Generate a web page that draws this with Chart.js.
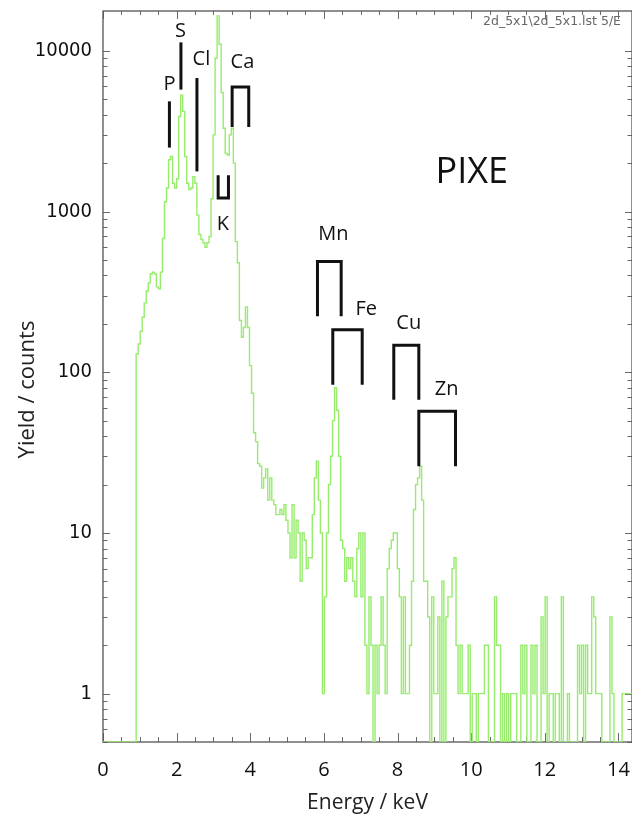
<!DOCTYPE html>
<html>
<head>
<meta charset="utf-8">
<title>PIXE spectrum</title>
<script src="https://cdn.jsdelivr.net/npm/chart.js@4.4.1/dist/chart.umd.min.js"></script>
<style>
  html, body { margin: 0; padding: 0; background: #ffffff; }
  #wrap { width: 632px; height: 814px; }
</style>
</head>
<body>
<div id="wrap"><canvas id="chart" width="632" height="814"></canvas></div>
<script>
// Channel layout of the spectrum
const ENERGY_START = 0.9;   // keV, first non-empty channel
const BIN_WIDTH = 0.055;    // keV per channel

// Counts per channel, starting at ENERGY_START
const counts = [
  130, 150, 180, 220, 270, 320, 360, 410, 420, 410,
  340, 330, 420, 680, 1150, 1400, 2100, 2200, 1500, 1400,
  1600, 3900, 5300, 4200, 2200, 1500, 1370, 1400, 1650, 1500,
  950, 720, 670, 640, 600, 640, 700, 1200, 3000, 9000,
  16500, 11000, 5500, 3300, 2300, 2250, 3000, 3300, 2000, 650,
  480, 210, 165, 190, 255, 190, 110, 74, 42, 37,
  27, 26, 19, 22, 25, 16, 22, 16, 15, 13,
  13, 14, 13, 15, 12, 10, 7, 15, 7, 12,
  10, 5, 10, 9, 6, 7, 7, 13, 22, 28,
  16, 10, 1, 4, 10, 20, 30, 50, 80, 58,
  30, 9, 8, 5, 7, 6, 7, 5, 4, 8,
  10, 4, 10, 2, 1, 4, 2, 0, 2, 1,
  2, 4, 2, 1, 6, 8, 9, 10, 10, 6,
  4, 1, 4, 1, 1, 2, 5, 14, 20, 22,
  26, 16, 5, 5, 3, 0, 4, 1, 1, 3,
  0, 5, 0, 3, 4, 4, 6, 7, 2, 1,
  2, 1, 1, 1, 2, 0, 1, 1, 0, 1,
  1, 1, 2, 2, 0, 0, 0, 4, 2, 2,
  0, 1, 0, 1, 0, 1, 1, 1, 0, 0,
  2, 1, 2, 0, 0, 2, 1, 2, 0, 0,
  3, 1, 4, 0, 1, 1, 0, 1, 1, 0,
  4, 0, 0, 1, 0, 0, 0, 0, 2, 1,
  2, 0, 2, 1, 1, 4, 3, 1, 1, 1,
  0, 0, 0, 0, 3, 1, 0, 0, 0, 0,
  1, 1, 1, 1, 1
];

// Axis ticks
const xTickValues = [0, 2, 4, 6, 8, 10, 12, 14];
const yTickValues = [1, 10, 100, 1000, 10000];

// Axis ranges
const X_MIN = 0, X_MAX = 14.37;
const Y_MIN = 0.5, Y_MAX = 17700;

// Element line markers, in keV / counts
const elementMarkers = [
  { name: 'P',  kind: 'bar',  e1: 1.804, top: 4850, bottom: 2500, labelE: 1.804, labelC: 6160 },
  { name: 'S',  kind: 'bar',  e1: 2.117, top: 11290, bottom: 5740, labelE: 2.103, labelC: 13160 },
  { name: 'Cl', kind: 'bar',  e1: 2.552, top: 6780, bottom: 1778, labelE: 2.674, labelC: 8810 },
  { name: 'Ca', kind: 'cap',  e1: 3.508, e2: 3.959, top: 5960, bottom: 3360, labelE: 3.788, labelC: 8450 },
  { name: 'K',  kind: 'cup',  e1: 3.128, e2: 3.408, top: 1680, bottom: 1216, labelE: 3.253, labelC: 829 },
  { name: 'Mn', kind: 'cap',  e1: 5.826, e2: 6.470, top: 488, bottom: 223, labelE: 6.261, labelC: 718 },
  { name: 'Fe', kind: 'cap',  e1: 6.242, e2: 7.041, top: 184, bottom: 83.7, labelE: 7.149, labelC: 248 },
  { name: 'Cu', kind: 'cap',  e1: 7.899, e2: 8.579, top: 147, bottom: 67.5, labelE: 8.307, labelC: 203 },
  { name: 'Zn', kind: 'cap',  e1: 8.579, e2: 9.576, top: 57.1, bottom: 26.0, labelE: 9.332, labelC: 78 }
];

const FONT = '"Open Sans", "Liberation Sans", sans-serif';
const NARROW_FONT = '"Liberation Sans Narrow", "DejaVu Sans Condensed", "Open Sans", sans-serif';

// Step histogram points: value of each channel holds until the next one
const spectrum = [{ x: X_MIN, y: Y_MIN }];
counts.forEach((c, i) => {
  spectrum.push({ x: ENERGY_START + i * BIN_WIDTH, y: c > 0 ? c : Y_MIN });
});
spectrum.push({
  x: ENERGY_START + counts.length * BIN_WIDTH,
  y: counts[counts.length - 1] > 0 ? counts[counts.length - 1] : Y_MIN
});

// Frame with inward ticks on all four sides
const frameTicks = {
  id: 'frameTicks',
  beforeDatasetsDraw(chart) {
    const { ctx, chartArea: a, scales: { x, y } } = chart;
    ctx.save();
    ctx.strokeStyle = '#6a6a6a';
    ctx.lineWidth = 1;
    const seg = (x1, y1, x2, y2) => { ctx.beginPath(); ctx.moveTo(x1, y1); ctx.lineTo(x2, y2); ctx.stroke(); };
    for (let k = 0; k * 0.5 <= x.max + 1e-9; k++) {
      const v = k * 0.5;
      const px = Math.round(x.getPixelForValue(v)) + 0.5;
      const major = k % 4 === 0;
      seg(px, a.bottom, px, a.bottom - (major ? 9 : 5));
      seg(px, a.top, px, a.top + (major ? 8 : 4));
    }
    for (let d = -1; d <= 4; d++) {
      for (let m = 1; m <= 9; m++) {
        const v = m * Math.pow(10, d);
        if (v < y.min || v > y.max) continue;
        const py = Math.round(y.getPixelForValue(v)) + 0.5;
        const len = m === 1 ? 7 : 4.5;
        seg(a.left, py, a.left + len, py);
        seg(a.right, py, a.right - len, py);
      }
    }
    ctx.strokeStyle = '#555555';
    ctx.lineWidth = 1.3;
    ctx.strokeRect(a.left, a.top, a.right - a.left, a.bottom - a.top);
    ctx.restore();
  }
};

// Element markers, labels, axis titles and captions
const annotations = {
  id: 'annotations',
  afterDatasetsDraw(chart) {
    const { ctx, chartArea: a, scales: { x, y } } = chart;
    ctx.save();
    ctx.strokeStyle = '#111111';
    ctx.lineWidth = 3;
    ctx.lineJoin = 'miter';
    ctx.lineCap = 'butt';
    elementMarkers.forEach(m => {
      const x1 = x.getPixelForValue(m.e1);
      const yt = y.getPixelForValue(m.top);
      const yb = y.getPixelForValue(m.bottom);
      ctx.beginPath();
      if (m.kind === 'bar') {
        ctx.moveTo(x1, yt); ctx.lineTo(x1, yb);
      } else if (m.kind === 'cap') {
        const x2 = x.getPixelForValue(m.e2);
        ctx.moveTo(x1, yb); ctx.lineTo(x1, yt); ctx.lineTo(x2, yt); ctx.lineTo(x2, yb);
      } else {
        const x2 = x.getPixelForValue(m.e2);
        ctx.moveTo(x1, yt); ctx.lineTo(x1, yb); ctx.lineTo(x2, yb); ctx.lineTo(x2, yt);
      }
      ctx.stroke();
    });
    ctx.fillStyle = '#111111';
    ctx.textAlign = 'center';
    ctx.textBaseline = 'middle';
    ctx.font = '20px ' + FONT;
    elementMarkers.forEach(m => {
      ctx.fillText(m.name, x.getPixelForValue(m.labelE), y.getPixelForValue(m.labelC));
    });
    ctx.font = '36px ' + FONT;
    ctx.fillText('PIXE', x.getPixelForValue(10.02), y.getPixelForValue(1746));

    // axis titles
    ctx.fillStyle = '#222222';
    ctx.font = '21px ' + FONT;
    ctx.fillText('Energy / keV', (a.left + a.right) / 2, a.bottom + 61);
    ctx.save();
    ctx.translate(a.left - 75, (a.top + a.bottom) / 2 + 13);
    ctx.rotate(-Math.PI / 2);
    ctx.font = '22px ' + FONT;
    ctx.fillText('Yield / counts', 0, 0);
    ctx.restore();

    ctx.fillStyle = '#666666';
    ctx.font = '12.5px "DejaVu Sans", sans-serif';
    ctx.textAlign = 'right';
    ctx.fillText('2d_5x1\\2d_5x1.lst 5/E', a.right - 11, a.top + 11);
    ctx.restore();
  }
};

new Chart(document.getElementById('chart'), {
  type: 'line',
  data: {
    datasets: [{
      data: spectrum,
      stepped: 'before',
      borderColor: '#97ec6e',
      borderWidth: 1.4,
      pointRadius: 0,
      fill: false,
      tension: 0
    }]
  },
  options: {
    responsive: false,
    animation: false,
    devicePixelRatio: 1,
    events: [],
    layout: { padding: { top: 11, right: 0, bottom: 0, left: 0 } },
    plugins: { legend: { display: false }, tooltip: { enabled: false } },
    scales: {
      x: {
        type: 'linear',
        min: X_MIN,
        max: X_MAX,
        afterBuildTicks: s => { s.ticks = xTickValues.map(v => ({ value: v })); },
        afterFit: s => { s.height = 72; s.paddingLeft = 0; s.paddingRight = 0; },
        grid: { display: false, drawTicks: false },
        border: { display: false },
        ticks: {
          autoSkip: false, maxRotation: 0, padding: 16,
          color: '#111111',
          font: { family: FONT, size: 20 },
          callback: v => String(v)
        },
        title: { display: false }
      },
      y: {
        type: 'logarithmic',
        min: Y_MIN,
        max: Y_MAX,
        afterBuildTicks: s => { s.ticks = yTickValues.map(v => ({ value: v, major: true })); },
        afterFit: s => { s.width = 103; s.paddingTop = 0; s.paddingBottom = 0; },
        grid: { display: false, drawTicks: false },
        border: { display: false },
        ticks: {
          autoSkip: false, padding: 11,
          color: '#111111',
          font: { family: NARROW_FONT, size: 20 },
          callback: v => String(v)
        },
        title: { display: false }
      }
    }
  },
  plugins: [frameTicks, annotations]
});
</script>
</body>
</html>
